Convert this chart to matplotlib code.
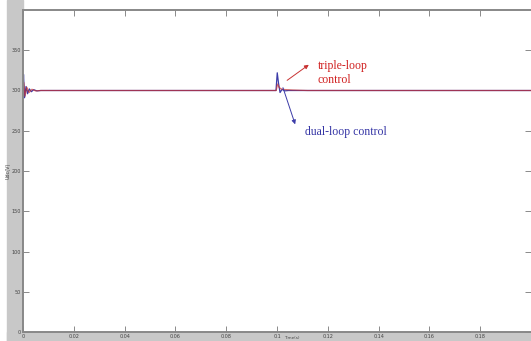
import numpy as np
import matplotlib
matplotlib.use('Agg')
import matplotlib.pyplot as plt
from matplotlib.patches import Rectangle

# dc bus voltage, dual-loop vs triple-loop control
t_dual = [0, 0.0002, 0.0006, 0.0012, 0.0018, 0.0025, 0.0033, 0.0042, 0.0055, 0.0070,
          0.0996, 0.1001, 0.1006, 0.1012, 0.1020, 0.1030, 0.1045, 0.2]
v_dual = [300, 320, 291, 305, 296, 302, 298.5, 301, 299.5, 300,
          300, 322, 309, 297.5, 301.5, 299.5, 300, 300]

t_triple = [0, 0.0003, 0.0008, 0.0015, 0.0024, 0.0035, 0.005, 0.007,
            0.0997, 0.1002, 0.1008, 0.1016, 0.1030, 0.1060, 0.1120, 0.2]
v_triple = [300, 310, 293, 304, 297.5, 301.5, 299.5, 300,
            300, 308, 304, 302, 301.2, 300.6, 300, 300]

x_ticks = [0, 0.02, 0.04, 0.06, 0.08, 0.1, 0.12, 0.14, 0.16, 0.18]
x_labels = ['0', '0.02', '0.04', '0.06', '0.08', '0.1', '0.12', '0.14', '0.16', '0.18']
y_ticks = [0, 50, 100, 150, 200, 250, 300, 350]

fig = plt.figure(figsize=(5.31, 3.41), dpi=100)
fig.patch.set_facecolor('white')
# grey window border left and bottom
fig.patches.append(Rectangle((7/531, 0), 16/531, 1, transform=fig.transFigure,
                             color='#c8c8c8', zorder=-5))
fig.patches.append(Rectangle((7/531, 0), 1, 9/341, transform=fig.transFigure,
                             color='#c8c8c8', zorder=-5))

ax = fig.add_axes([23/531, 9/341, 1 - 23/531, 322/341])
ax.set_facecolor('white')

ax.plot(t_dual, v_dual, color='#3c3ca8', lw=0.9)
ax.plot(t_triple, v_triple, color='#c83232', lw=0.9, alpha=0.7)

ax.set_xlim(0, 0.2)
ax.set_ylim(0, 400)
ax.set_xticks(x_ticks)
ax.set_xticklabels(x_labels)
ax.set_yticks(y_ticks)
ax.tick_params(direction='in', length=4, width=0.6, color='#777777',
               labelsize=3.5, labelcolor='#444444', pad=1.5,
               top=True, right=True)
for s in ax.spines.values():
    s.set_color('#888888')
    s.set_linewidth(1.4)
ax.spines['right'].set_visible(False)

ax.set_ylabel('Udc(V)', fontsize=3.5, color='#444444', labelpad=1)
# x label sits right at the bottom edge of the window
fig.text(284/531, 0.002, 'Time(s)', fontsize=3, color='#444444',
         ha='left', va='bottom')

# annotations
ax.annotate('', xy=(0.1134, 334), xytext=(0.1031, 310.6),
            arrowprops=dict(arrowstyle='-|>', color='#c83232', lw=0.7,
                            mutation_scale=6))
ax.text(0.1161, 322, 'triple-loop\ncontrol', color='#d02020', fontsize=8.5,
        family='Liberation Serif', va='center', ha='left', linespacing=1.2)
ax.annotate('', xy=(0.1075, 254.7), xytext=(0.1020, 306.8),
            arrowprops=dict(arrowstyle='-|>', color='#3c3ca8', lw=0.7,
                            mutation_scale=6))
ax.text(0.111, 248, 'dual-loop control', color='#3535a5', fontsize=8.5,
        family='Liberation Serif', va='center', ha='left')

plt.savefig('out.png', dpi=100)
